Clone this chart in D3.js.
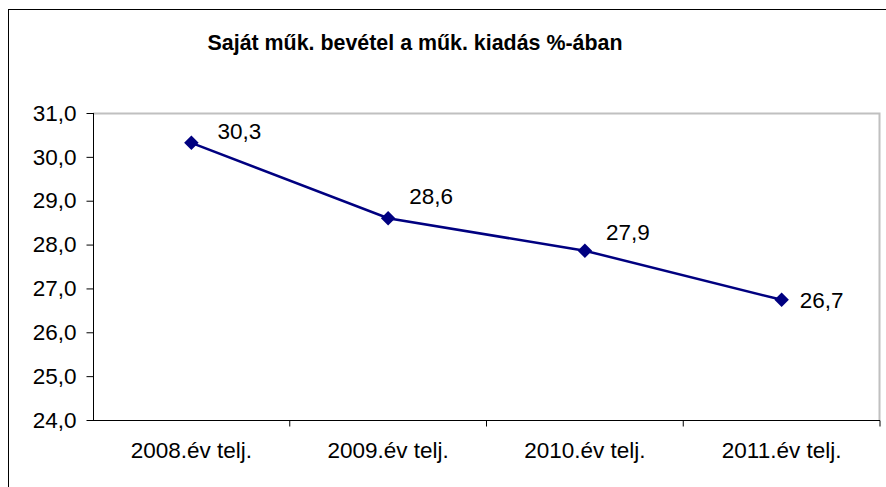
<!DOCTYPE html>
<html>
<head>
<meta charset="utf-8">
<script src="https://cdn.jsdelivr.net/npm/d3@7"></script>
<style>
  body { margin: 0; background: #fff; }
  svg { display: block; font-family: "Liberation Sans", Arial, sans-serif; }
</style>
</head>
<body>
<svg width="886" height="487"></svg>
<script>
// ### Data ###
var chartTitle = 'Saját műk. bevétel a műk. kiadás %-ában'
var categories = ['2008.év telj.', '2009.év telj.', '2010.év telj.', '2011.év telj.']
var values = [30.32, 28.6, 27.86, 26.74]
var valueLabels = ['30,3', '28,6', '27,9', '26,7']
var yTicks = [24, 25, 26, 27, 28, 29, 30, 31]

// ### Canvas ###
var svg = d3.select('svg')
var plot = {left: 93, top: 113, right: 880, bottom: 420}
var fontFam = '"Liberation Sans", Arial, sans-serif'
var labelSize = 22.5

// outer chart frame (runs past the right and bottom edge)
svg.append('rect')
	.attr('x', 8.5).attr('y', 9.5)
	.attr('width', 1000).attr('height', 600)
	.attr('fill', 'none').attr('stroke', '#000')

svg.append('text')
	.attr('x', 415).attr('y', 50)
	.attr('text-anchor', 'middle')
	.attr('font-size', 21.4).attr('font-weight', 'bold')
	.text(chartTitle)

// ### Scales ###
var xScale = d3.scaleBand()
				.domain(categories)
				.range([plot.left, plot.right])
var yScale = d3.scaleLinear()
				.domain([24, 31])
				.range([plot.bottom, plot.top])

// plot area border (grey top/right)
svg.append('path')
	.attr('d', `M${plot.left},${plot.top + 0.5}H${plot.right - 0.5}V${plot.bottom}`)
	.attr('fill', 'none').attr('stroke', '#c0c0c0').attr('stroke-width', 2)

// ### Axes ###
var yAxis = d3.axisLeft(yScale)
				.tickValues(yTicks)
				.tickSize(7)
				.tickPadding(10)
				.tickFormat(d => d3.format('.1f')(d).replace('.', ','))
var gy = svg.append('g')
	.attr('transform', `translate(${plot.left + 0.5},0)`)
	.call(yAxis)
gy.attr('font-size', labelSize).attr('font-family', fontFam)
gy.select('.domain').attr('d', `M0,${plot.top}V${plot.bottom}`)
gy.selectAll('text').attr('fill', '#000')

var xAxis = d3.axisBottom(xScale).tickSize(0).tickPadding(22)
var gx = svg.append('g')
	.attr('transform', `translate(0,${plot.bottom + 0.5})`)
	.call(xAxis)
gx.attr('font-size', labelSize).attr('font-family', fontFam)
gx.select('.domain').attr('d', `M${plot.left},0H${plot.right}`)
gx.selectAll('text').attr('fill', '#000')
// category boundary ticks
gx.selectAll('.bound')
	.data(categories)
	.enter()
	.append('line')
	.attr('x1', d => xScale(d) + xScale.bandwidth())
	.attr('x2', d => xScale(d) + xScale.bandwidth())
	.attr('y1', 0).attr('y2', 6)
	.attr('stroke', '#000')
svg.selectAll('.domain, .tick line').attr('stroke', '#000')

// ### Line + markers ###
var cx = (d, i) => xScale(categories[i]) + xScale.bandwidth() / 2
var line = d3.line()
				.x(cx)
				.y(d => yScale(d))
svg.append('path')
	.datum(values)
	.attr('d', line)
	.attr('fill', 'none')
	.attr('stroke', '#000080')
	.attr('stroke-width', 2.5)

svg.selectAll('.marker')
	.data(values)
	.enter()
	.append('path')
	.attr('d', d3.symbol(d3.symbolDiamond2, 135))
	.attr('transform', (d, i) => `translate(${cx(d, i)},${yScale(d)})`)
	.attr('fill', '#000080')

// data labels, nudged like the original
var nudge = [[26, -4], [21, -14], [21, -11], [18, 8]]
svg.selectAll('.lbl')
	.data(values)
	.enter()
	.append('text')
	.attr('x', (d, i) => cx(d, i) + nudge[i][0])
	.attr('y', (d, i) => yScale(d) + nudge[i][1])
	.attr('font-size', labelSize)
	.text((d, i) => valueLabels[i])
</script>
</body>
</html>
